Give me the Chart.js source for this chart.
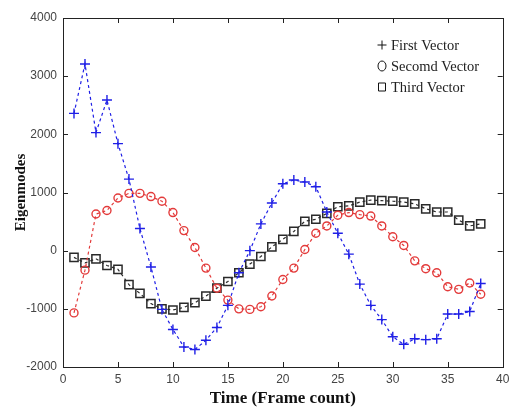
<!DOCTYPE html>
<html>
<head>
<meta charset="utf-8">
<script src="https://cdn.jsdelivr.net/npm/chart.js@4.4.0/dist/chart.umd.min.js"></script>
<style>
  html, body { margin: 0; padding: 0; background: #fff; }
</style>
</head>
<body>
<canvas id="grafica" width="510" height="412"></canvas>
<script>
// Datos (frame 1..38)
const frames = [1, 2, 3, 4, 5, 6, 7, 8, 9, 10, 11, 12, 13, 14, 15, 16, 17, 18, 19,
  20, 21, 22, 23, 24, 25, 26, 27, 28, 29, 30, 31, 32, 33, 34, 35, 36, 37, 38];
const primerVector = [2360, 3210, 2030, 2590, 1840, 1230, 380, -280, -1010, -1355, -1655, -1700, -1540, -1320, -940, -380, 0, 460, 820,
  1150, 1215, 1180, 1100, 665, 300, -60, -575, -940, -1185, -1480, -1610, -1515, -1530, -1515, -1090, -1090, -1045, -565];
const segundoVector = [-1070, -335, 630, 690, 905, 985, 985, 930, 850, 655, 345, 55, -300, -645, -850, -1000, -1010, -965, -780,
  -495, -300, 20, 300, 425, 610, 655, 620, 595, 425, 240, 90, -175, -310, -380, -620, -665, -555, -750];
const tercerVector = [-115, -210, -140, -255, -320, -585, -735, -910, -1000, -1020, -975, -895, -780, -645, -530, -380, -230, -100, 65,
  195, 330, 505, 540, 640, 755, 770, 835, 870, 860, 850, 835, 805, 720, 665, 665, 525, 425, 460];
const etiquetas = ['First Vector', 'Secomd Vector', 'Third Vector'];
const xTicks = [0, 5, 10, 15, 20, 25, 30, 35, 40];
const yTicks = [-2000, -1000, 0, 1000, 2000, 3000, 4000];

function puntos(valores) {
  return frames.map((f, i) => ({ x: f, y: valores[i] }));
}

// Caja completa con marcas hacia dentro (estilo MATLAB)
const marcoPlugin = {
  id: 'marco',
  afterDraw(chart) {
    const { ctx, chartArea: a, scales } = chart;
    ctx.save();
    ctx.strokeStyle = '#222';
    ctx.lineWidth = 1;
    ctx.strokeRect(Math.round(a.left) + 0.5, Math.round(a.top) + 0.5,
      Math.round(a.right - a.left), Math.round(a.bottom - a.top));
    ctx.beginPath();
    xTicks.forEach(v => {
      const px = Math.round(scales.x.getPixelForValue(v)) + 0.5;
      ctx.moveTo(px, a.bottom); ctx.lineTo(px, a.bottom - 5);
      ctx.moveTo(px, a.top); ctx.lineTo(px, a.top + 5);
    });
    yTicks.forEach(v => {
      const py = Math.round(scales.y.getPixelForValue(v)) + 0.5;
      ctx.moveTo(a.left, py); ctx.lineTo(a.left + 5, py);
      ctx.moveTo(a.right, py); ctx.lineTo(a.right - 5, py);
    });
    ctx.stroke();
    ctx.restore();
  }
};

// Leyenda dentro del area, sin borde
const leyendaPlugin = {
  id: 'leyendaDentro',
  afterDraw(chart) {
    const { ctx } = chart;
    const mx = 382, tx = 391, filas = [45, 66, 87];
    ctx.save();
    ctx.strokeStyle = '#111';
    ctx.fillStyle = '#222';
    ctx.lineWidth = 1;
    ctx.font = '14.5px "Liberation Serif", "Times New Roman", serif';
    ctx.textBaseline = 'middle';
    etiquetas.forEach((txt, i) => {
      const y = filas[i];
      ctx.beginPath();
      if (i === 0) {
        ctx.moveTo(mx - 4.5, y); ctx.lineTo(mx + 4.5, y);
        ctx.moveTo(mx, y - 4.5); ctx.lineTo(mx, y + 4.5);
      } else if (i === 1) {
        ctx.ellipse(mx, y, 4, 5, 0, 0, Math.PI * 2);
      } else {
        ctx.rect(mx - 3.5, y - 4, 7, 8);
      }
      ctx.stroke();
      ctx.fillText(txt, tx, y + 1);
    });
    ctx.restore();
  }
};

function ajustarX(scale) {
  scale.height = 45;
  scale.paddingLeft = 0; scale.paddingRight = 0;
}
function ajustarY(scale) {
  scale.width = 63;
  scale.paddingTop = 0; scale.paddingBottom = 0;
}

const fuenteTicks = { family: '"Liberation Sans", Arial, sans-serif', size: 12 };

new Chart(document.getElementById('grafica'), {
  type: 'line',
  data: {
    datasets: [
      {
        label: etiquetas[0],
        data: puntos(primerVector),
        borderColor: '#1f1fe6',
        backgroundColor: '#1f1fe6',
        borderWidth: 1.2,
        borderDash: [3, 3],
        pointStyle: 'cross',
        pointRadius: 5,
        pointBorderWidth: 1.4,
        fill: false
      },
      {
        label: etiquetas[1],
        data: puntos(segundoVector),
        borderColor: '#e33b3b',
        backgroundColor: 'transparent',
        borderWidth: 1.2,
        borderDash: [3, 3],
        pointStyle: 'circle',
        pointRadius: 4,
        pointBorderWidth: 1.4,
        fill: false
      },
      {
        label: etiquetas[2],
        data: puntos(tercerVector),
        borderColor: '#2a2a2a',
        backgroundColor: 'transparent',
        borderWidth: 1.2,
        borderDash: [3, 3],
        pointStyle: 'rect',
        pointRadius: 5.8,
        pointBorderWidth: 1.5,
        fill: false
      }
    ]
  },
  options: {
    responsive: false,
    animation: false,
    layout: { padding: { top: 18, right: 3, left: 0, bottom: 0 } },
    plugins: {
      legend: { display: false },
      tooltip: { enabled: false }
    },
    scales: {
      x: {
        type: 'linear',
        min: 0, max: 40,
        afterFit: ajustarX,
        afterBuildTicks: s => { s.ticks = xTicks.map(v => ({ value: v })); },
        grid: { drawOnChartArea: false, drawTicks: false },
        border: { display: false },
        ticks: { font: fuenteTicks, color: '#444', padding: 5, maxRotation: 0, callback: v => String(v) },
        title: {
          display: true,
          text: 'Time (Frame count)',
          color: '#111',
          font: { family: '"Liberation Serif", "Times New Roman", serif', size: 17, weight: 'bold' },
          padding: { top: 0, bottom: 3 }
        }
      },
      y: {
        type: 'linear',
        min: -2000, max: 4000,
        afterFit: ajustarY,
        afterBuildTicks: s => { s.ticks = yTicks.map(v => ({ value: v })); },
        grid: { drawOnChartArea: false, drawTicks: false },
        border: { display: false },
        ticks: { font: fuenteTicks, color: '#444', padding: 6, callback: v => String(v) },
        title: {
          display: true,
          text: 'Eigenmodes',
          color: '#111',
          font: { family: '"Liberation Serif", "Times New Roman", serif', size: 15, weight: 'bold' },
          padding: { top: 12, bottom: 0 }
        }
      }
    }
  },
  plugins: [marcoPlugin, leyendaPlugin]
});
</script>
</body>
</html>
